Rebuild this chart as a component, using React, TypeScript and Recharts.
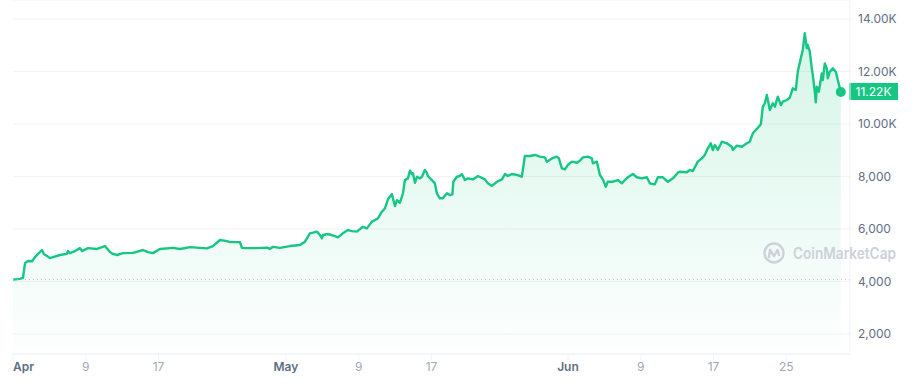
import {
  ComposedChart,
  Area,
  XAxis,
  YAxis,
  CartesianGrid,
  ReferenceLine,
  ReferenceDot,
} from 'recharts';

// days since Apr 1
const days = [
  0, 0.77, 1.1, 1.32, 1.65, 2.09, 2.42, 2.75, 3.19, 3.41, 3.74, 4.07, 4.4, 5.16, 5.93, 6.04,
  6.26, 6.81, 7.36, 7.58, 8.24, 9.23, 10.11, 10.66, 10.99, 11.43, 12.09, 13.19, 14.29, 14.84,
  15.38, 16.15, 17.58, 18.35, 19.45, 20.55, 21.32, 21.98, 22.75, 23.52, 23.85, 24.95, 25.16,
  25.71, 26.81, 27.91, 28.24, 28.57, 29.34, 30.44, 31.54, 32.09, 32.64, 32.97, 33.41, 33.74,
  33.96, 34.07, 34.62, 35.38, 35.71, 36.26, 36.81, 37.25, 37.8, 38.46, 38.9, 39.45, 39.78,
  40.11, 40.55, 40.88, 41.21, 41.65, 41.76, 41.98, 42.2, 42.53, 42.86, 43.08, 43.41, 43.63,
  43.85, 43.96, 44.18, 44.4, 44.73, 44.95, 45.27, 45.49, 45.6, 46.04, 46.37, 46.59, 46.92,
  47.25, 47.69, 48.02, 48.3, 48.4, 48.79, 49.12, 49.34, 49.67, 50.0, 50.55, 51.1, 51.87,
  52.2, 52.64, 53.19, 53.74, 54.07, 54.4, 54.84, 55.49, 55.93, 56.26, 56.81, 57.36, 57.91,
  58.46, 58.68, 59.23, 59.78, 60.0, 60.33, 60.66, 60.99, 61.43, 61.98, 62.31, 62.64, 63.19,
  63.63, 63.74, 64.18, 64.51, 64.84, 65.16, 65.38, 65.93, 66.48, 66.92, 67.25, 67.58, 68.13,
  68.57, 69.12, 69.67, 70.0, 70.55, 70.88, 71.43, 71.98, 72.53, 73.08, 73.3, 74.07, 74.4,
  74.73, 75.27, 75.71, 76.04, 76.37, 76.7, 76.92, 77.14, 77.47, 77.91, 78.46, 79.01, 79.12,
  79.56, 80.11, 80.66, 80.99, 81.32, 81.87, 82.2, 82.42, 82.64, 82.86, 83.19, 83.52, 83.74,
  84.07, 84.4, 84.62, 85.05, 85.38, 85.71, 86.04, 86.26, 86.59, 86.81, 87.03, 87.25, 87.36,
  87.58, 87.8, 87.91, 88.13, 88.24, 88.35, 88.57, 88.9, 89.01, 89.23, 89.45, 89.56, 89.78,
  90.11, 90.44, 90.66, 90.99,
];

const prices = [
  4070, 4100, 4140, 4700, 4780, 4770, 4930, 5050, 5200, 5040, 4970, 4890, 4930, 5010, 5050, 5160,
  5080, 5160, 5270, 5160, 5270, 5240, 5350, 5120, 5050, 5010, 5080, 5090, 5200, 5120,
  5080, 5240, 5280, 5240, 5310, 5280, 5260, 5350, 5580, 5540, 5500, 5500, 5280,
  5270, 5270, 5290, 5240, 5320, 5280, 5350, 5390, 5517, 5835, 5860, 5900, 5770,
  5645, 5770, 5810, 5730, 5680, 5835, 5960, 5920, 5900, 6085, 6025, 6280, 6340,
  6405, 6660, 6790, 7130, 7330, 7170, 6875, 7100, 7000, 7360, 7865, 7930, 8220,
  8095, 8120, 7760, 7990, 7930, 7990, 8245, 8145, 8020, 7865, 7740, 7360, 7170,
  7170, 7360, 7295, 7320, 7800, 7990, 8020, 8095, 7865, 7930, 7890, 8020, 7890,
  7740, 7640, 7800, 7890, 8095, 8020, 8095, 8055, 7990, 8780, 8780, 8820, 8755,
  8730, 8565, 8690, 8755, 8690, 8310, 8270, 8440, 8565, 8525, 8600, 8730, 8755,
  8690, 8500, 8565, 8055, 7890, 7610, 7800, 7800, 7865, 7740, 7865, 7970, 8095,
  7970, 7930, 7970, 7740, 7700, 7970, 7970, 7800, 7930, 8145, 8180, 8160, 8245,
  8210, 8565, 8690, 8820, 9075, 9265, 9010, 9200, 9010, 9325, 9265, 9135, 9010,
  9175, 9135, 9265, 9325, 9645, 9860, 9990, 10660, 10790, 11105, 10530, 10790, 10660,
  11040, 10720, 10850, 10915, 11000, 11360, 11295, 11990, 12500, 12820, 13455, 12885, 13010,
  12755, 12120, 11865, 11230, 10825, 11420, 11230, 11930, 11675, 12310, 12120, 11740, 11990,
  12120, 11990, 11675, 11220,
];

const openPrice = 4070;
const lastPrice = 11220;
const lastLabel = '11.22K';

const xTicks = [0, 8, 16, 30, 38, 46, 61, 69, 77, 85];
const xTickLabels = ['Apr', '9', '17', 'May', '9', '17', 'Jun', '9', '17', '25'];
const yTicks = [2000, 4000, 6000, 8000, 10000, 12000, 14000];

const data = days.map((d, i) => ({ day: d, price: prices[i] }));

const GREEN = '#16c784';

function formatPrice(v: number) {
  if (v >= 10000) return `${(v / 1000).toFixed(2)}K`;
  return v.toLocaleString('en-US');
}

function DateTick({ x, y, payload }: any) {
  const label = xTickLabels[xTicks.indexOf(payload.value)] ?? '';
  const isMonth = /[A-Za-z]/.test(label);
  return (
    <text
      x={x}
      y={y}
      dy="0.71em"
      textAnchor={payload.value === 0 ? 'start' : 'middle'}
      fontSize={12}
      fontWeight={isMonth ? 600 : 400}
      fill={isMonth ? '#616e85' : '#a1a7bb'}
    >
      {label}
    </text>
  );
}

function PriceTag({ viewBox }: any) {
  if (!viewBox) return null;
  const right = viewBox.x + viewBox.width;
  return (
    <g>
      <rect x={right - 1} y={viewBox.y - 9} width={49} height={17} fill={GREEN} />
      <text
        x={right + 23.5}
        y={viewBox.y}
        dy="0.355em"
        textAnchor="middle"
        fontSize={12}
        fill="#fff"
      >
        {lastLabel}
      </text>
    </g>
  );
}

function Watermark() {
  return (
    <svg
      width={160}
      height={30}
      style={{ position: 'absolute', left: 760, top: 238, pointerEvents: 'none' }}
    >
      <g transform="translate(14,15)" fill="none" stroke="#cdd1da" strokeWidth={2.4}>
        <circle r={9.5} />
        <path d="M-5 4 L-4 -3 L0 3 L3.5 -3 L5 2" strokeLinejoin="round" strokeLinecap="round" />
      </g>
      <text
        x={33}
        y={21}
        fontSize={16}
        fontWeight={600}
        fill="#cdd1da"
        textLength={103}
        lengthAdjust="spacingAndGlyphs"
      >
        CoinMarketCap
      </text>
    </svg>
  );
}

export default function App() {
  return (
    <div
      style={{
        position: 'absolute',
        left: 0,
        top: 0,
        width: 915,
        height: 389,
        background: '#fff',
        fontFamily: 'Inter, "Noto Sans", sans-serif',
      }}
    >
      <ComposedChart
        width={915}
        height={389}
        data={data}
        margin={{ top: 0, right: 0, bottom: 0, left: 13 }}
      >
        <defs>
          <linearGradient id="cmcFill" x1="0" y1="0" x2="0" y2="1">
            <stop offset="0%" stopColor={GREEN} stopOpacity={0.3} />
            <stop offset="100%" stopColor={GREEN} stopOpacity={0.01} />
          </linearGradient>
        </defs>
        <CartesianGrid vertical={false} stroke="#f1f3f6" />
        <XAxis
          dataKey="day"
          type="number"
          domain={[0, 92]}
          ticks={xTicks}
          interval={0}
          height={35}
          axisLine={{ stroke: '#eff2f5' }}
          tickLine={{ stroke: '#f3f5f8' }}
          tick={<DateTick />}
        />
        <YAxis
          orientation="right"
          type="number"
          domain={[1238, 14724]}
          ticks={yTicks}
          allowDataOverflow
          width={65}
          axisLine={{ stroke: '#eff2f5' }}
          tickLine={false}
          tick={{ fontSize: 12, fill: '#616e85' }}
          tickFormatter={formatPrice}
        />
        <ReferenceLine
          y={openPrice}
          stroke="#b5bccb"
          strokeDasharray="1 3"
          strokeWidth={1}
        />
        <Area
          type="linear"
          dataKey="price"
          stroke={GREEN}
          strokeWidth={2.4}
          strokeLinejoin="round"
          fill="url(#cmcFill)"
          dot={false}
          activeDot={false}
          isAnimationActive={false}
        />
        <ReferenceLine
          y={lastPrice}
          stroke="transparent"
          label={(props: any) => <PriceTag {...props} />}
        />
        <ReferenceDot
          x={days[days.length - 1]}
          y={lastPrice}
          r={5}
          fill={GREEN}
          stroke="none"
        />
      </ComposedChart>
      <Watermark />
    </div>
  );
}
